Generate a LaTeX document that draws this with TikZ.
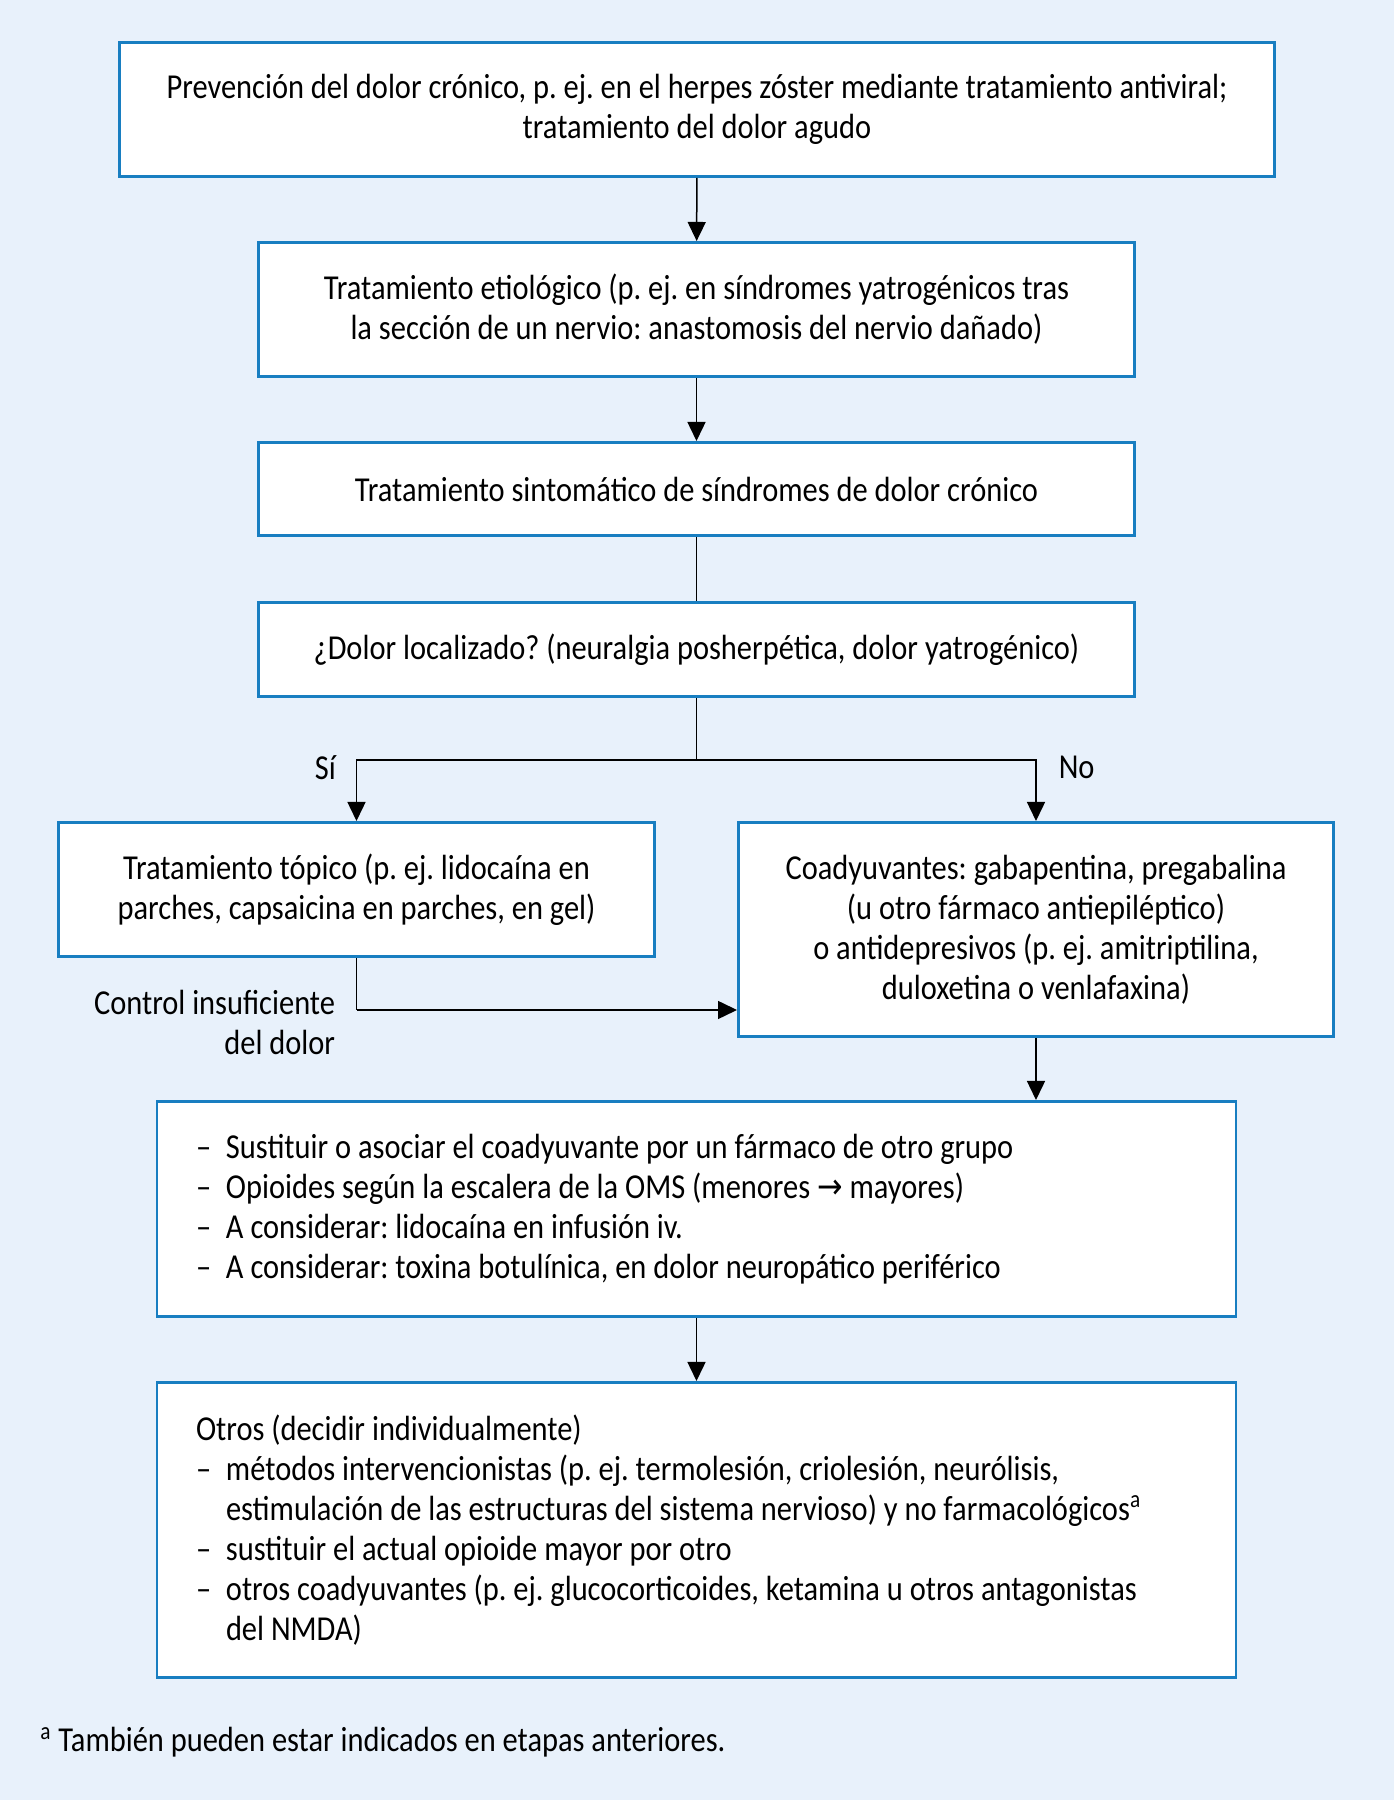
\documentclass[tikz,border=0pt]{standalone}
\usepackage{fontspec}
\setmainfont{Carlito}[FakeStretch=0.87]
\newfontfamily\flechas{DejaVu Sans}[FakeStretch=0.87]
\usepackage{tikz}
\usetikzlibrary{positioning,arrows.meta}

\definecolor{fondo}{RGB}{232,241,251}
\definecolor{borde}{RGB}{24,126,193}
\newcommand{\guion}{\makebox[15pt][l]{–}}
\frenchspacing

\begin{document}
\begin{tikzpicture}[x=1pt,y=1pt,
		every node/.style={font=\fontsize{17.5}{20}\selectfont},
		caja/.style={draw=borde,line width=1.4pt,fill=white,align=center,inner sep=0pt},
		lista/.style={caja,align=left,inner xsep=19.5pt,text width=500.5pt,
			execute at begin node={\spaceskip=0pt\xspaceskip=0pt}},
		flecha/.style={line width=0.75pt,-{Triangle[length=9.5pt,width=9pt]}},
		linea/.style={line width=0.75pt},
		etiqueta/.style={inner sep=0pt}
	]
	% background
	\fill[fondo] (0,0) rectangle (697,900);
	\useasboundingbox (0,0) rectangle (697,900);

	% boxes
	\node[caja,minimum width=577.6pt,minimum height=67.1pt] (prev) at (348.5,845.25)
		{Prevención del dolor crónico, p. ej. en el herpes zóster mediante tratamiento antiviral;\\
		tratamiento del dolor agudo};
	\node[caja,minimum width=438.1pt,minimum height=67.1pt] (etio) at (348.25,745.25)
		{Tratamiento etiológico (p. ej. en síndromes yatrogénicos tras\\
		la sección de un nervio: anastomosis del nervio dañado)};
	\node[caja,minimum width=438.1pt,minimum height=46.6pt] (sinto) at (348.25,655.5)
		{Tratamiento sintomático de síndromes de dolor crónico};
	\node[caja,minimum width=438.1pt,minimum height=47.1pt] (local) at (348.25,575.25)
		{¿Dolor localizado? (neuralgia posherpética, dolor yatrogénico)};
	\node[caja,minimum width=298.1pt,minimum height=67.1pt] (topico) at (178.25,455.25)
		{Tratamiento tópico (p. ej. lidocaína en\\
		parches, capsaicina en parches, en gel)};
	\node[caja,minimum width=297.6pt,minimum height=107.1pt] (coady) at (518,435.25)
		{Coadyuvantes: gabapentina, pregabalina\\
		(u otro fármaco antiepiléptico)\\
		o antidepresivos (p. ej. amitriptilina,\\
		duloxetina o venlafaxina)};
	\node[lista,minimum width=538.1pt,minimum height=107.6pt] (escalera) at (348.25,295.5)
		{\guion Sustituir o asociar el coadyuvante por un fármaco de otro grupo\\
		\guion Opioides según la escalera de la OMS (menores {\flechas →} mayores)\\
		\guion A considerar: lidocaína en infusión iv.\\
		\guion A considerar: toxina botulínica, en dolor neuropático periférico};
	\node[lista,minimum width=538.1pt,minimum height=147.6pt] (otros) at (348.25,135)
		{Otros (decidir individualmente)\\
		\guion métodos intervencionistas (p. ej. termolesión, criolesión, neurólisis,\\
		\hspace*{15pt}estimulación de las estructuras del sistema nervioso) y no farmacológicos\textsuperscript{a}\\
		\guion sustituir el actual opioide mayor por otro\\
		\guion otros coadyuvantes (p. ej. glucocorticoides, ketamina u otros antagonistas\\
		\hspace*{15pt}del NMDA)};

	% connectors
	\draw[flecha] (prev) -- (etio);
	\draw[flecha] (etio) -- (sinto);
	\draw[linea] (sinto) -- (local);
	\draw[linea] (local.south) -- ++(0,-31) coordinate (split);
	\draw[flecha] (split) -| node[etiqueta,pos=0.5,anchor=north east,xshift=-10pt,yshift=2.5pt] {Sí} (topico.north);
	\draw[flecha] (split) -| node[etiqueta,pos=0.5,anchor=north west,xshift=11pt,yshift=2.5pt] {No} (coady.north);
	\draw[linea] (topico.south) -- ++(0,-26) coordinate (ctrl);
	\draw[flecha] (ctrl) -- (ctrl -| coady.west);
	\node[etiqueta,align=right,anchor=north east,xshift=-10.5pt,yshift=10pt] (ctrltxt) at (ctrl)
		{Control insuficiente\\ del dolor};
	\draw[flecha] (coady.south) -- (coady.south |- escalera.north);
	\draw[flecha] (escalera) -- (otros);

	% footnote
	\node[etiqueta,anchor=base west] (nota) at (20,24)
		{\textsuperscript{a} También pueden estar indicados en etapas anteriores.};
\end{tikzpicture}
\end{document}
